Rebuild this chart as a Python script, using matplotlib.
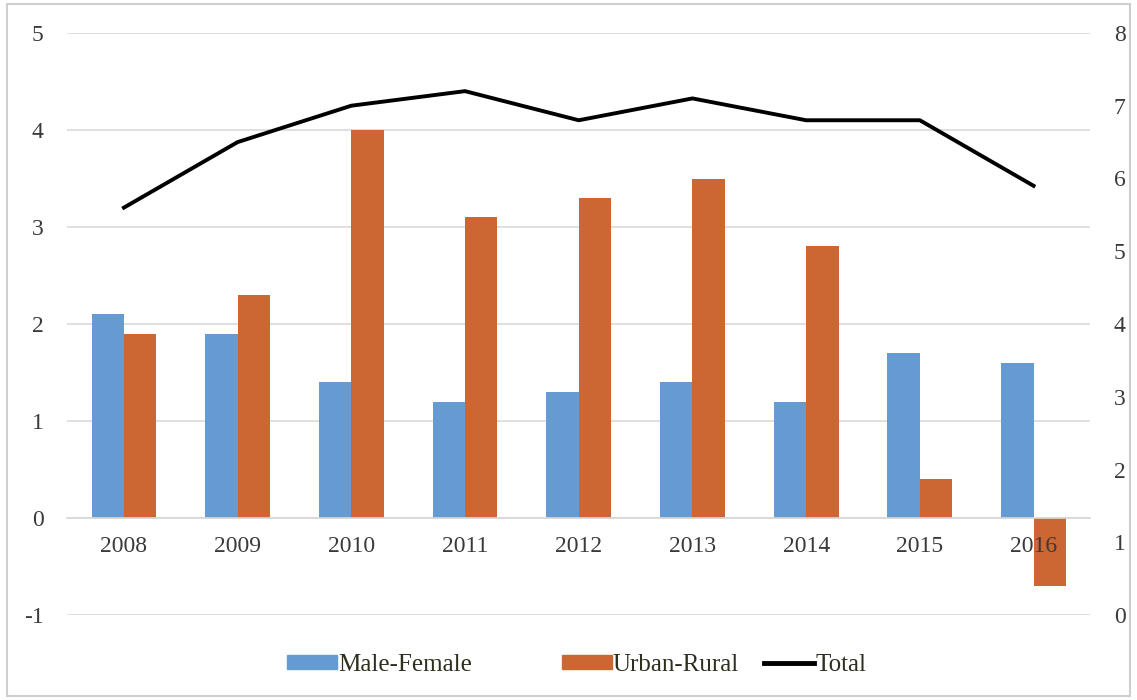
import numpy as np
import matplotlib
matplotlib.use("Agg")
import matplotlib.pyplot as plt
from matplotlib.patches import Patch, Rectangle
from matplotlib.lines import Line2D

plt.rcParams['font.family'] = ['Liberation Serif', 'DejaVu Serif']
plt.rcParams['axes.unicode_minus'] = False

years = ['2008', '2009', '2010', '2011', '2012', '2013', '2014', '2015', '2016']
male_female = [2.1, 1.9, 1.4, 1.2, 1.3, 1.4, 1.2, 1.7, 1.6]
urban_rural = [1.9, 2.3, 4.0, 3.1, 3.3, 3.5, 2.8, 0.4, -0.7]
total = [5.6, 6.5, 7.0, 7.2, 6.8, 7.1, 6.8, 6.8, 5.9]

blue = '#659ad2'
orange = '#cc6633'
text_col = '#3a3a3a'
grid_col = '#d9d9d9'

fig = plt.figure(figsize=(11.37, 7.0), dpi=100)
ax = fig.add_axes([0.059, 0.121, 0.9, 0.832])

x = np.arange(len(years))
w = 0.285
ax.bar(x - w / 2, male_female, w, color=blue, zorder=2)
ax.bar(x + w / 2, urban_rural, w, color=orange, zorder=2)

ax.set_xlim(-0.5, len(years) - 0.5)
ax.set_ylim(-1, 5)
ax.set_yticks(range(-1, 6))
ax.grid(axis='y', color=grid_col, linewidth=1.2, zorder=0)
ax.set_axisbelow(True)

# category axis sits on the zero line
for s in ['top', 'right', 'left']:
    ax.spines[s].set_visible(False)
ax.spines['bottom'].set_position(('data', 0))
ax.spines['bottom'].set_color(grid_col)
ax.spines['bottom'].set_linewidth(1.2)
ax.set_xticks(x)
ax.set_xticklabels([])
ax.tick_params(axis='x', length=0)
ax.tick_params(axis='y', length=0, pad=17, labelsize=17, labelcolor=text_col)

ax2 = ax.twinx()
ax2.plot(x, total, color='black', linewidth=2.8, solid_joinstyle='round', zorder=3)
ax2.set_ylim(0, 8)
ax2.set_yticks(range(0, 9))
for s in ax2.spines.values():
    s.set_visible(False)
ax2.tick_params(axis='y', length=0, pad=17, labelsize=17, labelcolor=text_col)

# year labels drawn on top of the bars
for xi, yr in zip(x, years):
    ax2.annotate(yr, xy=(xi, 0), xycoords=ax.transData, xytext=(0, -13),
                 textcoords='offset points', ha='center', va='top',
                 fontsize=17, color=text_col, zorder=5)

leg_kw = dict(frameon=False, fontsize=18, handlelength=2.0, handleheight=0.5,
              handletextpad=0.05, labelcolor='#2f2f1f', borderaxespad=0,
              borderpad=0)
fig.legend(handles=[Patch(color=blue, label='Male-Female')],
           loc='center left', bbox_to_anchor=(0.2524, 0.05), **leg_kw)
fig.legend(handles=[Patch(color=orange, label='Urban-Rural'),
                    Line2D([], [], color='black', linewidth=3.5, label='Total')],
           loc='center left', bbox_to_anchor=(0.494, 0.05), ncol=2,
           columnspacing=1.0, **leg_kw)

# outer frame
fig.add_artist(Rectangle((0.006, 0.006), 0.988, 0.988, transform=fig.transFigure,
                         fill=False, edgecolor='#cfcfcf', linewidth=1.5))

fig.savefig('out.png', dpi=100)
